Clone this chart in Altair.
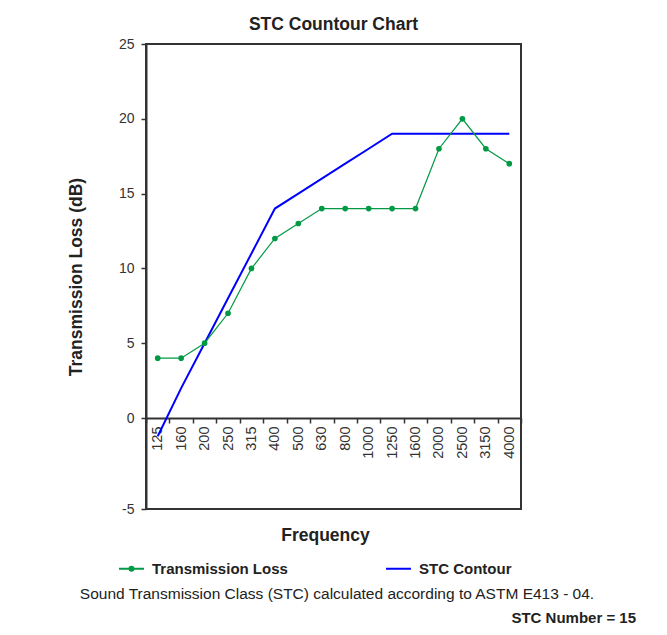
import altair as alt
import pandas as pd

freqs = ["125", "160", "200", "250", "315", "400", "500", "630", "800",
         "1000", "1250", "1600", "2000", "2500", "3150", "4000"]
tl_values = [4, 4, 5, 7, 10, 12, 13, 14, 14, 14, 14, 14, 18, 20, 18, 17]
stc_values = [-1, 2, 5, 8, 11, 14, 15, 16, 17, 18, 19, 19, 19, 19, 19, 19]
series_names = ["Transmission Loss", "STC Contour"]
series_colors = ["#009a44", "#0000ff"]
y_ticks = [-5, 0, 5, 10, 15, 20, 25]
title_text = "STC Countour Chart"
footnote = ["Sound Transmission Class (STC) calculated according to ASTM E413 - 04."]
stc_note = ["STC Number = 15"]

FONT = "Liberation Sans, Arial, sans-serif"
W, H = 375, 465
Y0 = 374  # pixel position of the zero line inside the plot

rows = []
for f, v in zip(freqs, tl_values):
    rows.append({"freq": f, "value": v, "series": series_names[0]})
for f, v in zip(freqs, stc_values):
    rows.append({"freq": f, "value": v, "series": series_names[1]})
df = pd.DataFrame(rows)

x_enc = alt.X(
    "freq:N", sort=freqs, bandPosition=0.5,
    scale=alt.Scale(type="band", paddingInner=0, paddingOuter=0),
    axis=alt.Axis(
        title="Frequency", offset=-(H - Y0), tickBand="extent",
        labelAngle=270, labelFontSize=14.5, labelColor="#333",
        labelPadding=3, domainColor="#333", domainWidth=2,
        tickColor="#333", tickWidth=1.5, tickSize=5, grid=False,
        titleFontSize=17.5, titleFontWeight="bold", titleColor="#222",
        titleX=179, titleY=117, titleBaseline="middle",
    ),
)
y_enc = alt.Y(
    "value:Q",
    scale=alt.Scale(domain=[-5, 0, 25], range=[H, Y0, 0], zero=False, nice=False),
    axis=alt.Axis(
        values=y_ticks, grid=False, tickSize=5, tickWidth=1.5,
        tickColor="#333", domainColor="#333", domainWidth=2,
        labelFontSize=14, labelColor="#333", labelPadding=7,
        labelExpr="'' + datum.value",
        title="Transmission Loss (dB)", titleFontSize=17.5,
        titleFontWeight="bold", titleColor="#222", titlePadding=33,
    ),
)

legend = alt.Legend(
    title=None, orient="none", legendX=-28, legendY=511,
    direction="horizontal", labelFontSize=15, labelFontWeight="bold",
    labelColor="#222", symbolSize=625, symbolStrokeWidth=2,
    columnPadding=94, labelOffset=7, padding=0, labelLimit=300,
)
color_enc = alt.Color(
    "series:N", scale=alt.Scale(domain=series_names, range=series_colors),
    legend=legend,
)

path_tl = ("M-1,0H1M-0.16,0A0.16,0.16,0,1,0,0.16,0A0.16,0.16,0,1,0,-0.16,0"
           "M-0.07,0A0.07,0.07,0,1,0,0.07,0A0.07,0.07,0,1,0,-0.07,0")
path_stc = "M-1,0H1"

base = alt.Chart(df)

tl_line = base.transform_filter(alt.datum.series == series_names[0]).mark_line(
    strokeWidth=1.2).encode(x=x_enc, y=y_enc, color=color_enc)
stc_line = base.transform_filter(alt.datum.series == series_names[1]).mark_line(
    strokeWidth=2).encode(x=x_enc, y=y_enc, color=color_enc)
tl_points = base.transform_filter(alt.datum.series == series_names[0]).mark_circle(
    size=32, opacity=1, color=series_colors[0]).encode(x=x_enc, y=y_enc)
legend_shapes = base.transform_filter("false").mark_point(
    filled=False, strokeWidth=2, opacity=1).encode(
    x=x_enc, y=y_enc, color=color_enc,
    shape=alt.Shape("series:N",
                    scale=alt.Scale(domain=series_names, range=[path_tl, path_stc]),
                    legend=legend),
)

foot = alt.Chart(pd.DataFrame({"t": footnote})).mark_text(
    font=FONT, fontSize=15.5, color="#222", align="center", baseline="middle"
).encode(text="t:N", x=alt.value(191), y=alt.value(550))
note = alt.Chart(pd.DataFrame({"t": stc_note})).mark_text(
    font=FONT, fontSize=15, fontWeight="bold", color="#222", align="right",
    baseline="middle"
).encode(text="t:N", x=alt.value(490), y=alt.value(574))

chart = alt.layer(stc_line, tl_line, tl_points, legend_shapes, foot, note).properties(
    width=W, height=H,
    title=alt.TitleParams(title_text, fontSize=17.5, fontWeight="bold",
                          color="#222", anchor="middle", offset=4, font=FONT),
    autosize=alt.AutoSizeParams(type="none"),
    padding={"left": 138, "top": 36, "right": 138, "bottom": 118},
).configure_view(stroke="#333", strokeWidth=2).configure_axis(
    labelFont=FONT, titleFont=FONT
).configure_legend(labelFont=FONT)

chart.save("out.html", embed_options={"renderer": "svg", "actions": False})
